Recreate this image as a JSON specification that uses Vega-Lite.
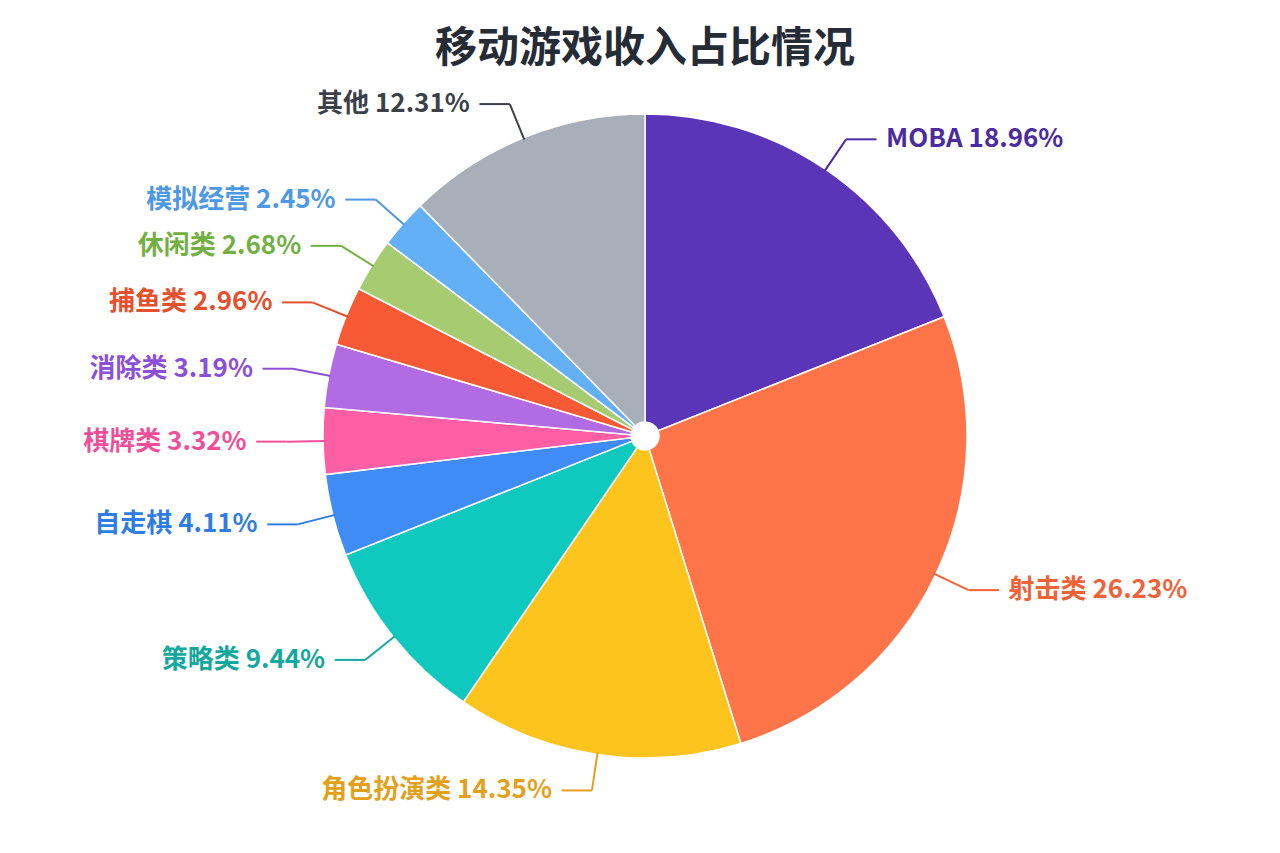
{
  "$schema": "https://vega.github.io/schema/vega-lite/v6.json",
  "width": 1270,
  "height": 834,
  "autosize": {"type": "none"},
  "padding": {"left": 10, "top": 19, "right": 0, "bottom": 0},
  "background": "white",
  "config": {"view": {"stroke": null}, "font": "Noto Sans CJK SC"},
  "title": {
    "text": "移动游戏收入占比情况",
    "font": "Noto Sans CJK SC",
    "fontSize": 42,
    "fontWeight": "bold",
    "color": "#262c36",
    "anchor": "middle",
    "offset": -52
  },
  "data": {
    "values": [
      {"cat": "MOBA", "value": 18.96},
      {"cat": "射击类", "value": 26.23},
      {"cat": "角色扮演类", "value": 14.35},
      {"cat": "策略类", "value": 9.44},
      {"cat": "自走棋", "value": 4.11},
      {"cat": "棋牌类", "value": 3.32},
      {"cat": "消除类", "value": 3.19},
      {"cat": "捕鱼类", "value": 2.96},
      {"cat": "休闲类", "value": 2.68},
      {"cat": "模拟经营", "value": 2.45},
      {"cat": "其他", "value": 12.31}
    ]
  },
  "transform": [
    {"window": [{"op": "row_number", "as": "idx"}]},
    {"window": [{"op": "sum", "field": "value", "as": "cum"}], "sort": [{"field": "idx", "order": "ascending"}], "frame": [null, 0]},
    {"joinaggregate": [{"op": "sum", "field": "value", "as": "total"}]},
    {"calculate": "2 * PI * (datum.cum - datum.value / 2) / datum.total", "as": "mid"},
    {"calculate": "datum.mid > PI ? -1 : 1", "as": "side"},
    {"calculate": "sin(datum.mid)", "as": "ex0"},
    {"calculate": "cos(datum.mid)", "as": "ey0"},
    {"calculate": "1.12 * sin(datum.mid)", "as": "ex1"},
    {"calculate": "1.12 * cos(datum.mid)", "as": "ey1"},
    {"calculate": "datum.ex1 + datum.side * 0.095", "as": "ex2"},
    {"calculate": "datum.ex2 + datum.side * 0.03", "as": "lx"},
    {"calculate": "datum.cat + ' ' + format(datum.value, '.2f') + '%'", "as": "label"}
  ],
  "layer": [
    {
      "mark": {"type": "arc", "outerRadius": 322, "innerRadius": 14, "stroke": "white", "strokeWidth": 1.5},
      "encoding": {
        "theta": {"field": "value", "type": "quantitative", "stack": true},
        "order": {"field": "idx", "type": "quantitative"},
        "color": {
          "field": "cat",
          "type": "nominal",
          "scale": {
            "domain": ["MOBA", "射击类", "角色扮演类", "策略类", "自走棋", "棋牌类", "消除类", "捕鱼类", "休闲类", "模拟经营", "其他"],
            "range": ["#5a35b7", "#ff7448", "#fcc41c", "#0fc9bf", "#3f8cf7", "#fe5fa4", "#b26ce3", "#f75a34", "#a6cb70", "#63b0f7", "#a8afb8"]
          },
          "legend": null
        }
      }
    },
    {
      "mark": {"type": "rule", "strokeWidth": 2},
      "encoding": {
        "x": {"field": "ex0", "type": "quantitative", "scale": {"domain": [-1.984375, 1.984375], "nice": false, "zero": false}, "axis": null},
        "y": {"field": "ey0", "type": "quantitative", "scale": {"domain": [-1.303125, 1.303125], "nice": false, "zero": false}, "axis": null},
        "x2": {"field": "ex1"},
        "y2": {"field": "ey1"},
        "color": {
          "field": "cat",
          "type": "nominal",
          "scale": {
            "domain": ["MOBA", "射击类", "角色扮演类", "策略类", "自走棋", "棋牌类", "消除类", "捕鱼类", "休闲类", "模拟经营", "其他"],
            "range": ["#4b2ca0", "#f0623a", "#e3a11b", "#12a89e", "#2f7de1", "#f0509a", "#8b4fd8", "#e5502d", "#72b043", "#4f98e6", "#3c4047"]
          },
          "legend": null
        }
      }
    },
    {
      "mark": {"type": "rule", "strokeWidth": 2},
      "encoding": {
        "x": {"field": "ex1", "type": "quantitative"},
        "y": {"field": "ey1", "type": "quantitative"},
        "x2": {"field": "ex2"},
        "color": {
          "field": "cat",
          "type": "nominal",
          "scale": {
            "domain": ["MOBA", "射击类", "角色扮演类", "策略类", "自走棋", "棋牌类", "消除类", "捕鱼类", "休闲类", "模拟经营", "其他"],
            "range": ["#4b2ca0", "#f0623a", "#e3a11b", "#12a89e", "#2f7de1", "#f0509a", "#8b4fd8", "#e5502d", "#72b043", "#4f98e6", "#3c4047"]
          },
          "legend": null
        }
      }
    },
    {
      "transform": [{"filter": "datum.side < 0"}],
      "mark": {"type": "text", "align": "right", "baseline": "middle", "fontSize": 26, "fontWeight": 600, "font": "Noto Sans CJK SC"},
      "encoding": {
        "x": {"field": "lx", "type": "quantitative"},
        "y": {"field": "ey1", "type": "quantitative"},
        "text": {"field": "label"},
        "color": {
          "field": "cat",
          "type": "nominal",
          "scale": {
            "domain": ["MOBA", "射击类", "角色扮演类", "策略类", "自走棋", "棋牌类", "消除类", "捕鱼类", "休闲类", "模拟经营", "其他"],
            "range": ["#4b2ca0", "#f0623a", "#e3a11b", "#12a89e", "#2f7de1", "#f0509a", "#8b4fd8", "#e5502d", "#72b043", "#4f98e6", "#3c4047"]
          },
          "legend": null
        }
      }
    },
    {
      "transform": [{"filter": "datum.side > 0"}],
      "mark": {"type": "text", "align": "left", "baseline": "middle", "fontSize": 26, "fontWeight": 600, "font": "Noto Sans CJK SC"},
      "encoding": {
        "x": {"field": "lx", "type": "quantitative"},
        "y": {"field": "ey1", "type": "quantitative"},
        "text": {"field": "label"},
        "color": {
          "field": "cat",
          "type": "nominal",
          "scale": {
            "domain": ["MOBA", "射击类", "角色扮演类", "策略类", "自走棋", "棋牌类", "消除类", "捕鱼类", "休闲类", "模拟经营", "其他"],
            "range": ["#4b2ca0", "#f0623a", "#e3a11b", "#12a89e", "#2f7de1", "#f0509a", "#8b4fd8", "#e5502d", "#72b043", "#4f98e6", "#3c4047"]
          },
          "legend": null
        }
      }
    }
  ],
  "resolve": {"scale": {"color": "independent"}}
}
